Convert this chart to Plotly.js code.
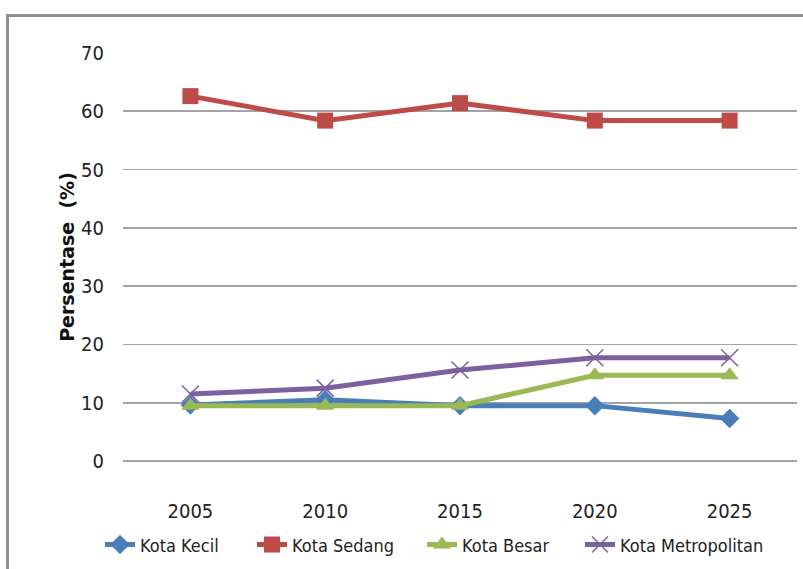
<!DOCTYPE html>
<html>
<head>
<meta charset="utf-8">
<script src="https://cdn.plot.ly/plotly-3.0.1.min.js"></script>
<style>
  html, body { margin: 0; padding: 0; background: #fff; }
  #wrap { position: relative; width: 803px; height: 569px; overflow: hidden; }
  #chart { position: absolute; left: 0; top: 0; width: 803px; height: 569px; }
  #frame { position: absolute; left: 6px; top: 14px; width: 900px; height: 700px;
           border-left: 3px solid #8e8e8e; border-top: 3px solid #8e8e8e; pointer-events: none; }
</style>
</head>
<body>
<div id="wrap">
  <div id="chart"></div>
  <div id="frame"></div>
</div>
<script>
const years = ['2005', '2010', '2015', '2020', '2025'];
const kotaKecil = [9.6, 10.5, 9.5, 9.5, 7.3];
const kotaSedang = [62.6, 58.4, 61.4, 58.4, 58.4];
const kotaBesar = [9.5, 9.5, 9.5, 14.7, 14.7];
const kotaMetropolitan = [11.5, 12.5, 15.6, 17.7, 17.7];
const seriesNames = ['Kota Kecil', 'Kota Sedang', 'Kota Besar', 'Kota Metropolitan'];
const yTicks = [0, 10, 20, 30, 40, 50, 60, 70];

const FONT = '"DejaVu Sans Condensed", "Liberation Sans Narrow", Arial, sans-serif';

function mk(name, y, color, symbol, msize, legendId, mline) {
  return {
    type: 'scatter', mode: 'lines+markers', name: name, legend: legendId,
    x: years, y: y,
    line: { color: color, width: 5 },
    marker: Object.assign({ symbol: symbol, size: msize, color: color }, mline ? { line: mline } : {})
  };
}

const data = [
  mk(seriesNames[0], kotaKecil, '#4a7ebb', 'diamond', 15, 'legend'),
  mk(seriesNames[1], kotaSedang, '#be4b48', 'square', 16, 'legend2'),
  mk(seriesNames[2], kotaBesar, '#98b954', 'triangle-up', 16, 'legend3'),
  mk(seriesNames[3], kotaMetropolitan, '#7d60a0', 'x-thin-open', 17, 'legend4', { color: '#9a85bd', width: 1.5 })
];

function leg(xpx) {
  return {
    orientation: 'h', x: (xpx - 123) / 674, xanchor: 'left', y: -0.16, yanchor: 'top',
    font: { family: FONT, size: 18, color: '#222' },
    bgcolor: 'rgba(0,0,0,0)', borderwidth: 0
  };
}

const layout = {
  width: 803, height: 569,
  margin: { l: 123, r: 6, t: 53, b: 102 },
  paper_bgcolor: '#ffffff', plot_bgcolor: '#ffffff',
  showlegend: true,
  legend: leg(100),
  legend2: leg(252),
  legend3: leg(422),
  legend4: leg(580),
  xaxis: {
    type: 'category', range: [-0.5, 4.5],
    tickvals: years, ticktext: years,
    showgrid: false, zeroline: false, showline: false,
    ticks: '', ticklabelstandoff: 36,
    tickfont: { family: FONT, size: 20, color: '#222' },
    fixedrange: true
  },
  yaxis: {
    range: [0, 70], tickvals: yTicks,
    showgrid: true, gridcolor: '#a3a3a3', gridwidth: 1.6,
    zeroline: true, zerolinecolor: '#a3a3a3', zerolinewidth: 1.6,
    showline: false, ticks: '', ticklabelstandoff: 18,
    tickfont: { family: FONT, size: 20, color: '#222' },
    title: { text: 'Persentase  (%)', font: { family: '"DejaVu Sans", Arial, sans-serif', size: 19, weight: 'bold', color: '#111' }, standoff: 1 },
    fixedrange: true
  }
};

Plotly.newPlot('chart', data, layout, { displayModeBar: false, staticPlot: true });
</script>
</body>
</html>
